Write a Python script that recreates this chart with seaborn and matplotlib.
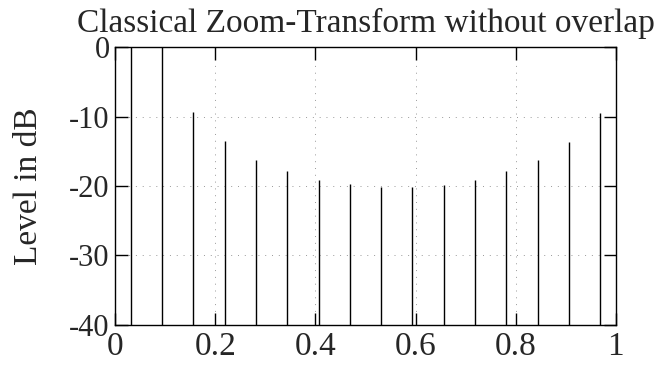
import numpy as np
import matplotlib
matplotlib.use("Agg")
import matplotlib.pyplot as plt
import seaborn as sns

# bin centres (normalised frequency) and level per bin
freqs = [0.03125, 0.09375, 0.15625, 0.21875, 0.28125, 0.34375, 0.40625, 0.46875,
         0.53125, 0.59375, 0.65625, 0.71875, 0.78125, 0.84375, 0.90625, 0.96875]
levels = [0, 0, -9.4, -13.5, -16.2, -17.8, -19.1, -19.7,
          -20.1, -20.1, -19.8, -19.1, -17.8, -16.3, -13.6, -9.5]
xticks = [0, 0.2, 0.4, 0.6, 0.8, 1]
xtick_labels = ["0", "0.2", "0.4", "0.6", "0.8", "1"]
yticks = [-40, -30, -20, -10, 0]
ytick_labels = ["-40", "-30", "-20", "-10", "0"]

sns.set_theme(style="ticks")
plt.rcParams['font.family'] = ['Liberation Serif', 'DejaVu Serif']
plt.rcParams['axes.unicode_minus'] = False

fig = plt.figure(figsize=(6.58, 3.65), dpi=100)
ax = fig.add_axes([0.175, 0.110, 0.761, 0.761])

ax.vlines(freqs, -40, levels, colors="black", linewidth=1.0)

ax.set_xlim(0, 1)
ax.set_ylim(-40, 0)
ax.set_xticks(xticks)
ax.set_xticklabels(xtick_labels, fontsize=24)
ax.set_yticks(yticks)
ax.set_yticklabels(ytick_labels, fontsize=22)
ax.tick_params(direction="in", length=9, width=1, top=True, right=True,
               color="black")
ax.tick_params(axis="x", pad=5)
ax.tick_params(axis="y", pad=4)
ax.grid(True, color="#999999", linestyle=(0, (1, 6)), linewidth=0.7)
for s in ax.spines.values():
    s.set_color("black")
    s.set_linewidth(1)

ax.set_title("Classical Zoom-Transform without overlap", fontsize=24, pad=11)
ax.set_ylabel("Level in dB", fontsize=24, labelpad=18)

fig.savefig("out.png", dpi=100, facecolor="white")
